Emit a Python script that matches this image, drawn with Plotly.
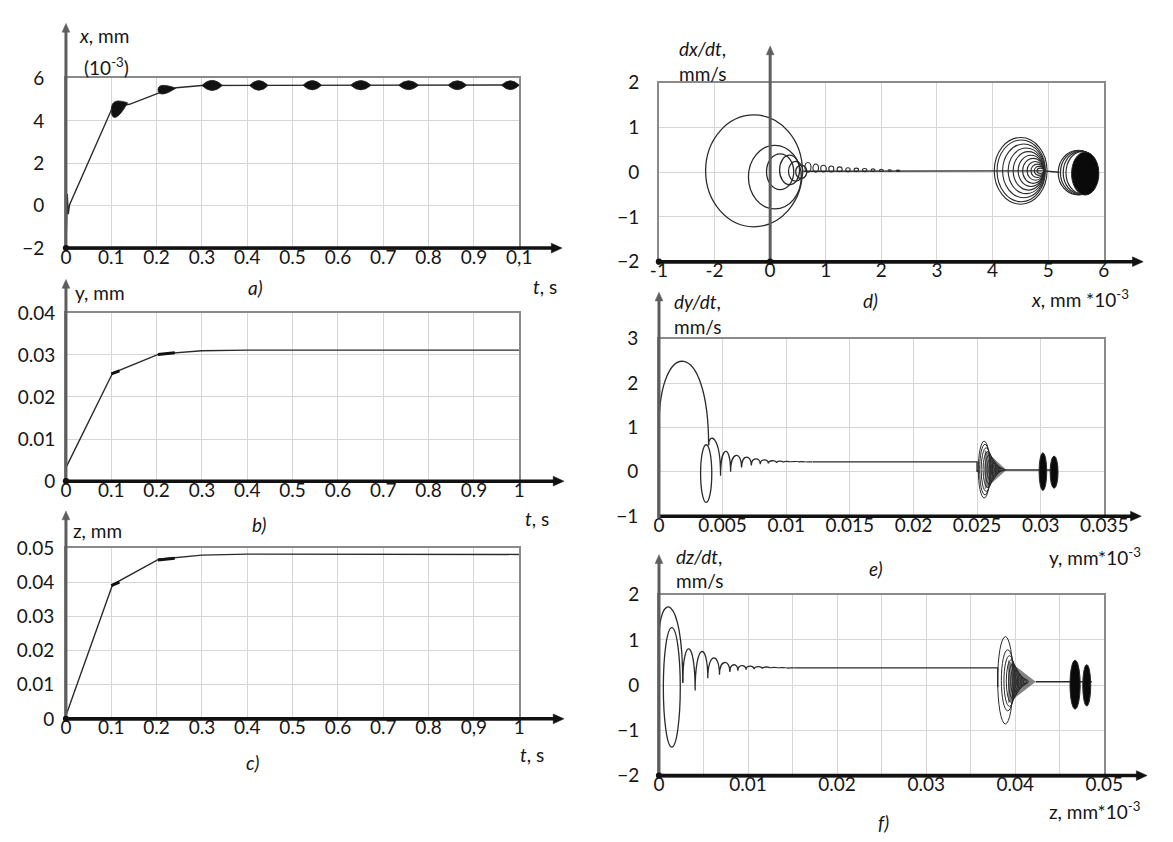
import plotly.graph_objects as go

W, H = 1173, 842
LC = "#2a2a2a"
FONT = "Lato"

# ------------------------------------------------------------------ data
# (a) x(t), mm*10^-3
t_a = [0.0, 0.001, 0.003, 0.005, 0.008, 0.103, 0.140, 0.207, 0.243, 0.300, 1.0]
x_a = [-2.0, -0.3, 0.55, -0.4, 0.05, 4.65, 4.78, 5.33, 5.56, 5.67, 5.69]
burst_t0 = [0.300, 0.405, 0.523, 0.628, 0.734, 0.843, 0.961]
burst_t1 = [0.345, 0.446, 0.564, 0.673, 0.778, 0.884, 1.000]
burst_xc = [5.67, 5.67, 5.68, 5.68, 5.68, 5.68, 5.68]
burst_h = [0.24, 0.23, 0.22, 0.22, 0.21, 0.21, 0.21]
drop_t0 = [0.100, 0.203]
drop_t1 = [0.136, 0.242]
drop_xc = [4.50, 5.46]
drop_h = [0.50, 0.27]
drop_tip = [4.85, 5.54]

# (b) y(t), mm
t_b = [0.0, 0.103, 0.205, 0.300, 0.400, 1.0]
y_b = [0.0032, 0.0257, 0.0302, 0.0310, 0.03115, 0.03115]
b_thick_t = [[0.100, 0.118], [0.203, 0.240]]
b_thick_y = [[0.0255, 0.0262], [0.0301, 0.0305]]

# (c) z(t), mm
t_c = [0.0, 0.103, 0.205, 0.300, 0.400, 1.0]
z_c = [0.001, 0.0393, 0.0467, 0.0479, 0.0482, 0.0481]
c_thick_t = [[0.100, 0.118], [0.203, 0.240]]
c_thick_z = [[0.0390, 0.0400], [0.0465, 0.0470]]

# (d) phase portrait dx/dt vs x
d_line_x = [0.60, 2.40, 4.92, 5.20]
d_line_v = [0.02, 0.025, 0.03, 0.0]
d_loop_cx = [-0.29, 0.085, 0.18, 0.35, 0.46, 0.56]
d_loop_cy = [0.03, -0.11, 0.01, 0.05, 0.02, 0.01]
d_loop_rx = [0.87, 0.475, 0.245, 0.18, 0.13, 0.10]
d_loop_ry = [1.25, 0.71, 0.40, 0.33, 0.22, 0.15]
d_curl_cx = [0.68, 0.82, 0.96, 1.10, 1.25, 1.40, 1.55, 1.70, 1.85, 2.00, 2.15, 2.30]
d_curl_rx = [0.055, 0.05, 0.05, 0.045, 0.045, 0.04, 0.04, 0.04, 0.035, 0.035, 0.03, 0.03]
d_curl_ry = [0.11, 0.09, 0.075, 0.065, 0.055, 0.045, 0.04, 0.035, 0.03, 0.025, 0.02, 0.015]
d_nest_x0 = [4.03, 4.08, 4.18, 4.28, 4.37, 4.46, 4.54, 4.62, 4.69, 4.75, 4.80]
d_nest_x1 = [4.98, 4.95, 4.94, 4.93, 4.92, 4.92, 4.92, 4.92, 4.92, 4.92, 4.92]
d_nest_ry = [0.745, 0.69, 0.60, 0.51, 0.43, 0.35, 0.28, 0.21, 0.15, 0.10, 0.06]
d_ring_x0 = [5.18, 5.22, 5.27, 5.32]
d_ring_x1 = [5.90, 5.90, 5.90, 5.90]
d_ring_ry = [0.50, 0.49, 0.48, 0.47]
d_blob = [5.42, 5.91, -0.51, 0.45]   # x0, x1, v0, v1

# (e) phase portrait dy/dt vs y
e_arc_x = [0.0, 0.0039]
e_arc_v = [1.0, 0.6]
e_arc_peak = [2.49]
e_loop = [0.00371, -0.04, 0.00044, 0.65]   # cx, cy, rx, ry
e_cusp_x = [0.0039, 0.00484, 0.00563, 0.00649, 0.00726, 0.00796, 0.0086, 0.00924,
            0.00975, 0.0103, 0.0109, 0.0115, 0.0121]
e_cusp_v = [0.6, -0.09, 0.0, 0.10, 0.14, 0.17, 0.19, 0.20, 0.21, 0.215, 0.22, 0.22, 0.225]
e_peak_v = [0.72, 0.46, 0.37, 0.33, 0.29, 0.27, 0.25, 0.24, 0.235, 0.23, 0.228, 0.226]
e_flat_x = [0.0121, 0.0250, 0.0250, 0.0251]
e_flat_v = [0.225, 0.225, 0.0, 0.05]
e_ring_cx = [0.02556, 0.02562, 0.02572, 0.02585, 0.02598, 0.02612, 0.02625, 0.02638,
             0.0265, 0.02662, 0.02675, 0.02688]
e_ring_rx = [0.00046, 0.00042, 0.0004, 0.00038, 0.00036, 0.00034, 0.00032, 0.0003,
             0.00028, 0.00026, 0.00025, 0.00024]
e_ring_ry = [0.64, 0.57, 0.49, 0.41, 0.33, 0.26, 0.20, 0.15, 0.10, 0.07, 0.045, 0.03]
e_ring_cy = [0.05] * 12
e_funnel_x = [0.0256, 0.0273, 0.0256]
e_funnel_v = [0.50, 0.04, -0.40]
e_tail_x = [0.0270, 0.0312]
e_tail_v = [0.04, 0.04]
e_blob_cx = [0.030175, 0.031055]
e_blob_cy = [0.005, -0.007]
e_blob_rx = [0.0003, 0.00031]
e_blob_ry = [0.425, 0.363]

# (f) phase portrait dz/dt vs z
f_arc_x = [0.0, 0.00267]
f_arc_v = [1.0, 0.05]
f_arc_peak = [1.70]
f_loop = [0.00144, -0.05, 0.00095, 1.32]
f_cusp_x = [0.00267, 0.00406, 0.00548, 0.00679, 0.00796, 0.00886, 0.00977, 0.01068,
            0.0116, 0.0125, 0.0134, 0.0143, 0.0152]
f_cusp_v = [0.05, -0.12, 0.15, 0.23, 0.29, 0.32, 0.34, 0.35, 0.36, 0.37, 0.37, 0.375, 0.38]
f_peak_v = [0.80, 0.74, 0.60, 0.50, 0.45, 0.43, 0.42, 0.41, 0.40, 0.39, 0.385, 0.38]
f_flat_x = [0.0152, 0.03803, 0.03803]
f_flat_v = [0.38, 0.38, -0.04]
f_ring_cx = [0.03889, 0.03916, 0.03935, 0.03955, 0.03975, 0.03995, 0.04015, 0.04035,
             0.04055, 0.04075, 0.04095, 0.04115]
f_ring_rx = [0.00086, 0.00072, 0.00062, 0.00055, 0.0005, 0.00046, 0.00043, 0.0004,
             0.00038, 0.00036, 0.00034, 0.00032]
f_ring_cy = [0.105, 0.105, 0.09, 0.09, 0.085, 0.08, 0.08, 0.08, 0.075, 0.075, 0.075, 0.075]
f_ring_ry = [0.965, 0.675, 0.56, 0.47, 0.39, 0.32, 0.25, 0.19, 0.14, 0.10, 0.07, 0.045]
f_funnel_x = [0.0392, 0.0423, 0.0392]
f_funnel_v = [0.55, 0.073, -0.40]
f_tail_x = [0.0423, 0.0486]
f_tail_v = [0.073, 0.073]
f_blob_cx = [0.04672, 0.04803]
f_blob_cy = [0.01, -0.005]
f_blob_rx = [0.00057, 0.00045]
f_blob_ry = [0.54, 0.455]

# tick labels
ticks_t = [0.0, 0.1, 0.2, 0.3, 0.4, 0.5, 0.6, 0.7, 0.8, 0.9, 1.0]
ticktext_a = ["0", "0.1", "0.2", "0.3", "0.4", "0.5", "0.6", "0.7", "0.8", "0.9", "0,1"]
ticktext_b = ["0", "0.1", "0.2", "0.3", "0.4", "0.5", "0.6", "0.7", "0.8", "0.9", "1"]
ticktext_c = ["0", "0.1", "0.2", "0.3", "0.4", "0.5", "0.6", "0.7", "0.8", "0,9", "1"]
ticks_d_x = [-2, -1, 0, 1, 2, 3, 4, 5, 6]
ticktext_d_x = ["-1", "-2", "0", "1", "2", "3", "4", "5", "6"]
ticks_e_x = [0, 0.005, 0.01, 0.015, 0.02, 0.025, 0.03, 0.035]
ticktext_e_x = ["0", "0.005", "0.01", "0.015", "0.02", "0.025", "0.03", "0.035"]
ticks_f_x = [0, 0.01, 0.02, 0.03, 0.04, 0.05]
ticktext_f_x = ["0", "0.01", "0.02", "0.03", "0.04", "0.05"]

# ------------------------------------------------------------------ layout geometry (pixels)
BOX = {  # left, right, top, bottom
    "a": (58.6, 525.0, 68.3, 242.7),
    "b": (58.6, 525.0, 309.3, 482.3),
    "c": (58.6, 525.0, 551.0, 726.7),
    "d": (668.7, 1126.5, 72.7, 256.7),
    "e": (668.8, 1127.0, 336.0, 518.3),
    "f": (668.8, 1127.0, 599.0, 785.0),
}


def dom(b):
    l, r, t, bt = b
    return [l / W, r / W], [1 - bt / H, 1 - t / H]


def n(v):
    return f"{v:.7g}"


fig = go.Figure()

line = dict(color=LC, width=1.4)
fig.add_trace(go.Scatter(x=t_a, y=x_a, mode="lines", line=line, xaxis="x", yaxis="y"))
fig.add_trace(go.Scatter(x=t_b, y=y_b, mode="lines", line=line, xaxis="x2", yaxis="y2"))
for tt, yy in zip(b_thick_t, b_thick_y):
    fig.add_trace(go.Scatter(x=tt, y=yy, mode="lines", line=dict(color="#111", width=3),
                             xaxis="x2", yaxis="y2"))
fig.add_trace(go.Scatter(x=t_c, y=z_c, mode="lines", line=line, xaxis="x3", yaxis="y3"))
for tt, zz in zip(c_thick_t, c_thick_z):
    fig.add_trace(go.Scatter(x=tt, y=zz, mode="lines", line=dict(color="#111", width=3),
                             xaxis="x3", yaxis="y3"))
fig.add_trace(go.Scatter(x=d_line_x, y=d_line_v, mode="lines", line=line, xaxis="x4", yaxis="y4"))
fig.add_trace(go.Scatter(x=e_flat_x, y=e_flat_v, mode="lines", line=line, xaxis="x5", yaxis="y5"))
fig.add_trace(go.Scatter(x=e_tail_x, y=e_tail_v, mode="lines", line=line, xaxis="x5", yaxis="y5"))
fig.add_trace(go.Scatter(x=f_flat_x, y=f_flat_v, mode="lines", line=line, xaxis="x6", yaxis="y6"))
fig.add_trace(go.Scatter(x=f_tail_x, y=f_tail_v, mode="lines", line=line, xaxis="x6", yaxis="y6"))

shapes = []


def ell(xr, yr, x0, x1, y0, y1, fill=None, w=1.1):
    shapes.append(dict(type="circle", xref=xr, yref=yr, x0=x0, x1=x1, y0=y0, y1=y1,
                       line=dict(color=LC, width=w),
                       fillcolor=fill if fill else "rgba(0,0,0,0)"))


def path(xr, yr, p, fill=None, w=1.3):
    shapes.append(dict(type="path", xref=xr, yref=yr, path=p,
                       line=dict(color=LC, width=w),
                       fillcolor=fill if fill else "rgba(0,0,0,0)"))


def arches(xs, vs, peaks):
    s = f"M{n(xs[0])},{n(vs[0])}"
    for i, pk in enumerate(peaks):
        k = (8 * pk - vs[i] - vs[i + 1]) / 6
        s += f" C{n(xs[i])},{n(k)} {n(xs[i + 1])},{n(k)} {n(xs[i + 1])},{n(vs[i + 1])}"
    return s


# (a) bursts
for t0, t1, xc, h in zip(burst_t0, burst_t1, burst_xc, burst_h):
    tm = (t0 + t1) / 2
    p = (f"M{n(t0)},{n(xc)} Q{n(tm)},{n(xc + 2 * h)} {n(t1)},{n(xc)} "
         f"Q{n(tm)},{n(xc - 2 * h)} {n(t0)},{n(xc)} Z")
    path("x", "y", p, fill="#111111", w=0.8)
for t0, t1, xc, h, tip in zip(drop_t0, drop_t1, drop_xc, drop_h, drop_tip):
    d = t1 - t0
    p = (f"M{n(t1)},{n(tip)} C{n(t0 + 0.4 * d)},{n(xc + h)} {n(t0)},{n(xc + h)} {n(t0)},{n(xc)} "
         f"C{n(t0)},{n(xc - h)} {n(t0 + 0.4 * d)},{n(xc - h)} {n(t1)},{n(tip)} Z")
    path("x", "y", p, fill="#111111", w=0.8)

# (d)
for cx, cy, rx, ry in zip(d_loop_cx, d_loop_cy, d_loop_rx, d_loop_ry):
    ell("x4", "y4", cx - rx, cx + rx, cy - ry, cy + ry, w=1.3)
for cx, rx, ry in zip(d_curl_cx, d_curl_rx, d_curl_ry):
    ell("x4", "y4", cx - rx, cx + rx, 0.02 - 0.2 * ry, 0.02 + 1.8 * ry, w=1.1)
for x0, x1, ry in zip(d_nest_x0, d_nest_x1, d_nest_ry):
    ell("x4", "y4", x0, x1, 0.03 - ry, 0.03 + ry, w=1.1)
for x0, x1, ry in zip(d_ring_x0, d_ring_x1, d_ring_ry):
    ell("x4", "y4", x0, x1, -0.01 - ry, -0.01 + ry, w=1.2)
ell("x4", "y4", d_blob[0], d_blob[1], d_blob[2], d_blob[3], fill="#0a0a0a", w=1)

# (e)
path("x5", "y5", arches(e_arc_x, e_arc_v, e_arc_peak))
path("x5", "y5", arches(e_cusp_x, e_cusp_v, e_peak_v), w=1.3)
ell("x5", "y5", e_loop[0] - e_loop[2], e_loop[0] + e_loop[2],
    e_loop[1] - e_loop[3], e_loop[1] + e_loop[3], w=1.3)
path("x5", "y5", f"M{n(e_funnel_x[0])},{n(e_funnel_v[0])} L{n(e_funnel_x[1])},{n(e_funnel_v[1])} "
                 f"L{n(e_funnel_x[2])},{n(e_funnel_v[2])} Z", fill="rgba(30,30,30,0.55)", w=0)
for cx, cy, rx, ry in zip(e_ring_cx, e_ring_cy, e_ring_rx, e_ring_ry):
    ell("x5", "y5", cx - rx, cx + rx, cy - ry, cy + ry, w=1.0)
for cx, cy, rx, ry in zip(e_blob_cx, e_blob_cy, e_blob_rx, e_blob_ry):
    ell("x5", "y5", cx - rx, cx + rx, cy - ry, cy + ry, fill="#0a0a0a", w=1)

# (f)
path("x6", "y6", arches(f_arc_x, f_arc_v, f_arc_peak))
path("x6", "y6", arches(f_cusp_x, f_cusp_v, f_peak_v), w=1.3)
ell("x6", "y6", f_loop[0] - f_loop[2], f_loop[0] + f_loop[2],
    f_loop[1] - f_loop[3], f_loop[1] + f_loop[3], w=1.3)
path("x6", "y6", f"M{n(f_funnel_x[0])},{n(f_funnel_v[0])} L{n(f_funnel_x[1])},{n(f_funnel_v[1])} "
                 f"L{n(f_funnel_x[2])},{n(f_funnel_v[2])} Z", fill="rgba(30,30,30,0.55)", w=0)
for cx, cy, rx, ry in zip(f_ring_cx, f_ring_cy, f_ring_rx, f_ring_ry):
    ell("x6", "y6", cx - rx, cx + rx, cy - ry, cy + ry, w=1.0)
for cx, cy, rx, ry in zip(f_blob_cx, f_blob_cy, f_blob_rx, f_blob_ry):
    ell("x6", "y6", cx - rx, cx + rx, cy - ry, cy + ry, fill="#0a0a0a", w=1)


# ------------------------------------------------------------------ axis arrows (paper coords)
def P(px, py):
    return f"{n(px / W)},{n(1 - py / H)}"


def axis_arrow(x0, y0, x1, y1, color, width, hl, hw):
    horiz = abs(y1 - y0) < 1e-6
    if horiz:
        bx, by = x1 - hl, y1
        tri = f"M{P(x1, y1)} L{P(x1 - hl, y1 - hw)} L{P(x1 - hl, y1 + hw)} Z"
    else:
        bx, by = x1, y1 + hl
        tri = f"M{P(x1, y1)} L{P(x1 - hw, y1 + hl)} L{P(x1 + hw, y1 + hl)} Z"
    shapes.append(dict(type="line", xref="paper", yref="paper", x0=x0 / W, y0=1 - y0 / H,
                       x1=(bx + (1 if horiz else 0)) / W, y1=1 - (by - (0 if horiz else 1)) / H,
                       line=dict(color=color, width=width)))
    shapes.append(dict(type="path", xref="paper", yref="paper", path=tri,
                       fillcolor=color, line=dict(color=color, width=0.5)))


GREY = "#5e5e5e"
BLK = "#111111"
axis_arrow(58.6, 242.7, 569, 242.7, BLK, 3.5, 11, 5)
axis_arrow(58.6, 244.5, 58.6, 11.7, GREY, 3, 9, 4)
axis_arrow(58.6, 482.3, 571, 482.3, BLK, 3.5, 11, 5)
axis_arrow(58.6, 484, 58.6, 275, GREY, 3, 9, 4)
axis_arrow(58.6, 726.7, 571, 726.7, BLK, 3.5, 11, 5)
axis_arrow(58.6, 728.5, 58.6, 513, GREY, 3, 9, 4)
axis_arrow(668.7, 256.7, 1167, 256.7, BLK, 3.5, 11, 5)
axis_arrow(783.2, 258.5, 783.2, 35, GREY, 3, 9, 4)
axis_arrow(668.8, 518.3, 1165, 518.3, BLK, 3.5, 11, 5)
axis_arrow(668.8, 520, 668.8, 288, GREY, 3, 9, 4)
axis_arrow(668.8, 785, 1171, 785, BLK, 3.5, 11, 5)
axis_arrow(668.8, 786.5, 668.8, 558, GREY, 3, 9, 4)

# origin dots (paper)
for px, py in [(58.6, 242.7), (58.6, 482.3), (58.6, 726.7), (668.7, 256.7), (783.2, 256.7),
               (668.8, 785.0)]:
    shapes.append(dict(type="circle", xref="paper", yref="paper",
                       x0=(px - 3.2) / W, x1=(px + 3.2) / W, y0=1 - (py + 3.2) / H,
                       y1=1 - (py - 3.2) / H, fillcolor="#111", line=dict(width=0)))

# ------------------------------------------------------------------ axes
tf = dict(family=FONT, size=19, color="#161616")
base = dict(showgrid=True, gridcolor="#d6d6d6", gridwidth=1, showline=True, mirror=True,
            linecolor="#8a8a8a", linewidth=1.6, zeroline=False, ticks="", tickfont=tf,
            fixedrange=True)

layout_axes = {}
spec = {
    "a": dict(xr=[0, 1], xt=(ticks_t, ticktext_a), yr=[-2, 6], yt=([-2, 0, 2, 4, 6], None), ys=16),
    "b": dict(xr=[0, 1], xt=(ticks_t, ticktext_b), yr=[0, 0.04],
              yt=([0, 0.01, 0.02, 0.03, 0.04], ["0", "0.01", "0.02", "0.03", "0.04"]), ys=5),
    "c": dict(xr=[0, 1], xt=(ticks_t, ticktext_c), yr=[0, 0.05],
              yt=([0, 0.01, 0.02, 0.03, 0.04, 0.05], ["0", "0.01", "0.02", "0.03", "0.04", "0.05"]), ys=6),
    "d": dict(xr=[-2, 6], xt=(ticks_d_x, ticktext_d_x), yr=[-2, 2], yt=([-2, -1, 0, 1, 2], None), ys=14),
    "e": dict(xr=[0, 0.035], xt=(ticks_e_x, ticktext_e_x), yr=[-1, 3], yt=([-1, 0, 1, 2, 3], None), ys=15),
    "f": dict(xr=[0, 0.05], xt=(ticks_f_x, ticktext_f_x), yr=[-2, 2], yt=([-2, -1, 0, 1, 2], None), ys=14),
}
for i, key in enumerate(["a", "b", "c", "d", "e", "f"]):
    s = spec[key]
    xd, yd = dom(BOX[key])
    sfx = "" if i == 0 else str(i + 1)
    xa = dict(base, domain=xd, range=s["xr"], anchor="y" + sfx, tickvals=s["xt"][0],
              ticktext=s["xt"][1], ticklabelstandoff=-9)
    if key == "f":
        xa["minor"] = dict(dtick=0.005, tick0=0, showgrid=True, gridcolor="#d6d6d6", gridwidth=1,
                           ticks="")
    ya = dict(base, domain=yd, range=s["yr"], anchor="x" + sfx, tickvals=s["yt"][0],
              ticklabelstandoff=s["ys"])
    if s["yt"][1] is not None:
        ya["ticktext"] = s["yt"][1]
    layout_axes["xaxis" + sfx] = xa
    layout_axes["yaxis" + sfx] = ya

# ------------------------------------------------------------------ annotations
ann = []


def label(text, xl, yc, size=19):
    ann.append(dict(x=xl / W, y=1 - yc / H, xref="paper", yref="paper", text=text,
                    showarrow=False, xanchor="left", yanchor="middle",
                    font=dict(family=FONT, size=size, color="#161616")))


label("<i>x</i>, mm", 70, 24)
label("(10<sup>-3</sup>)", 75, 56)
label("<i>t</i>, s", 537, 282)
label("<i>a)</i>", 244, 283)
label("y, mm", 66, 288)
label("<i>b)</i>", 248, 527)
label("<i>t</i>, s", 529, 521)
label("z, mm", 64, 533)
label("<i>t</i>, s", 524, 763)
label("<i>c)</i>", 242, 772)
label("<i>dx/dt</i>,", 687, 38)
label("mm/s", 687, 63)
label("<i>d)</i>", 877, 297)
label("<i>x</i>, mm *10<sup>-3</sup>", 1050, 295)
label("<i>dy/dt</i>,", 682, 298)
label("mm/s", 682, 323)
label("y, mm*10<sup>-3</sup>", 1068, 560)
label("<i>e)</i>", 883, 572)
label("<i>dz/dt</i>,", 684, 560)
label("mm/s", 684, 584)
label("z, mm*10<sup>-3</sup>", 1068, 821)
label("<i>f)</i>", 892, 833)

fig.update_layout(
    width=W, height=H, autosize=False, margin=dict(l=0, r=0, t=0, b=0),
    paper_bgcolor="white", plot_bgcolor="white", showlegend=False,
    shapes=shapes, annotations=ann, font=dict(family=FONT, size=18, color="#161616"),
    **layout_axes,
)

fig.write_html("out.html")
